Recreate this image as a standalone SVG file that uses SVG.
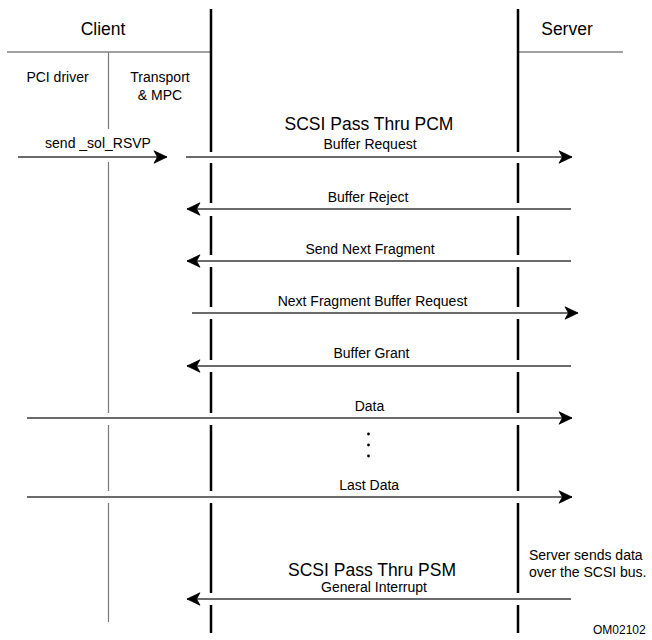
<svg xmlns="http://www.w3.org/2000/svg" width="652" height="640" viewBox="0 0 652 640">
<style>
text{font-family:"Liberation Sans",Arial,sans-serif;fill:#000}
.title{font-size:17.5px;text-anchor:middle}
.lbl{font-size:14px;text-anchor:middle}
.note{font-size:14px}
.small{font-size:12px}
.life{stroke:#000;stroke-width:2.5;fill:none}
.lane{stroke:#7a7a7a;stroke-width:1.2;fill:none}
.hdr{stroke:#444;stroke-width:1.2;fill:none}
.msg{stroke:#3a3a3a;stroke-width:1.5;fill:none}
.r{marker-end:url(#ah)}
</style>
<defs>
<marker id="ah" markerUnits="userSpaceOnUse" markerWidth="16" markerHeight="14" viewBox="-14 -7 16 14" refX="0" refY="0" orient="auto">
<path d="M0,0 L-13,-6.2 L-9.5,0 L-13,6.2 Z" fill="#000" stroke="#000" stroke-width="0.8" stroke-linejoin="miter"/>
</marker>
</defs>
<rect width="652" height="640" fill="#fff"/>

<g id="client">
<text class="title" x="103" y="35">Client</text>
<path class="hdr" d="M7,52 H211"/>
</g>
<g id="server">
<text class="title" x="567" y="35">Server</text>
<path class="hdr" d="M518,52 H623"/>
</g>
<g id="pci-driver">
<text class="lbl" x="57.5" y="82">PCI driver</text>
</g>
<g id="transport-mpc">
<text class="lbl" x="160" y="82">Transport</text>
<text class="lbl" x="160" y="100">&amp; MPC</text>
<path class="lane" d="M108.5,52 V129 M108.5,162 V413 M108.5,425 V491 M108.5,503 V622"/>
</g>
<g id="client-lifeline">
<path class="life" d="M211,9 V152 M211,163 V203 M211,216 V255 M211,267 V307 M211,319 V360 M211,372 V413 M211,425 V491 M211,503 V593 M211,605 V633"/>
</g>
<g id="server-lifeline">
<path class="life" d="M518,9 V152 M518,163 V203 M518,216 V255 M518,267 V307 M518,319 V360 M518,372 V413 M518,425 V491 M518,503 V593 M518,605 V633"/>
<text class="note" x="529" y="560">Server sends data</text>
<text class="note" x="529" y="577">over the SCSI bus.</text>
</g>

<g id="connectors">
<path class="msg r" d="M18,157 H167"/>
<path class="msg r" d="M186,157 H572"/>
<path class="msg r" d="M571,209 H187"/>
<path class="msg r" d="M571,261 H187"/>
<path class="msg r" d="M192,313 H578"/>
<path class="msg r" d="M571,366 H187"/>
<path class="msg r" d="M27,418 H572"/>
<path class="msg r" d="M27,497 H572"/>
<path class="msg r" d="M571,599 H187"/>
</g>

<g id="labels">
<text class="lbl" x="98" y="148">send _sol_RSVP</text>
<text class="title" x="369" y="130">SCSI Pass Thru PCM</text>
<text class="lbl" x="370" y="149">Buffer Request</text>
<text class="lbl" x="368" y="201.5">Buffer Reject</text>
<text class="lbl" x="370" y="253.5">Send Next Fragment</text>
<text class="lbl" x="372.5" y="306">Next Fragment Buffer Request</text>
<text class="lbl" x="371.5" y="357.5">Buffer Grant</text>
<text class="lbl" x="369.5" y="410.5">Data</text>
<circle cx="368.5" cy="434" r="1.4"/>
<circle cx="368.5" cy="445" r="1.4"/>
<circle cx="368.5" cy="456" r="1.4"/>
<text class="lbl" x="369.2" y="489.5">Last Data</text>
<text class="title" x="372" y="576">SCSI Pass Thru PSM</text>
<text class="lbl" x="374" y="591.5">General Interrupt</text>
<text class="small" x="593" y="634">OM02102</text>
</g>
</svg>
